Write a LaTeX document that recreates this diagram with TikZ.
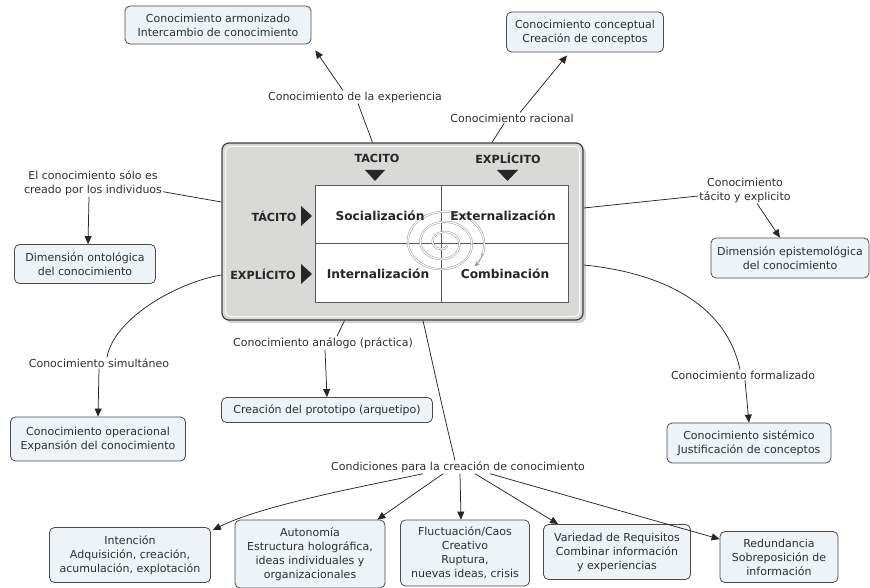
\documentclass[tikz,border=0pt]{standalone}
\usepackage{fontspec}
\setmainfont{DejaVu Sans}
\usetikzlibrary{arrows.meta}
\definecolor{boxfill}{HTML}{EDF3F6}
\definecolor{boxline}{HTML}{4A4A4A}
\definecolor{cbfill}{HTML}{D9D9D7}
\definecolor{txt}{HTML}{2E2E2E}
\begin{document}
\begin{tikzpicture}[x=1pt,y=-1pt,
  font=\fontsize{11}{14}\selectfont, text=txt,
  cbox/.style={draw=boxline, fill=boxfill, rounded corners=5pt, line width=0.8pt, align=center, inner sep=1pt},
  lbl/.style={align=center, inner sep=1pt},
  conn/.style={line width=0.75pt, draw=black!85},
  arr/.style={conn, -{Triangle[length=8pt,width=7pt]}},
  quad/.style={font=\fontsize{12.2}{14}\selectfont\bfseries, text=black!85},
  axlbl/.style={font=\fontsize{11.2}{13}\selectfont\bfseries, text=black!85},
]
\useasboundingbox (0,0) rectangle (870,588);

% central box
\fill[gray!35, rounded corners=7pt] (225,146) rectangle (586,323);
\node[draw=black!75, fill=cbfill, rounded corners=7pt, line width=1.2pt,
      minimum width=361pt, minimum height=177pt, inner sep=0pt] (cb) at (402.5,231.5) {};
\draw[white!85!cbfill, line width=1pt, rounded corners=5pt] (225.5,146.5) rectangle (579.5,316.5);
\node[draw=gray!70!black, fill=white, line width=0.8pt, minimum width=253pt,
      minimum height=117pt, inner sep=0pt] (grid) at (441.5,243.5) {};
\draw[gray!70!black, line width=0.8pt] (grid.north) -- (grid.south);
\draw[gray!70!black, line width=0.8pt] (grid.west) -- (grid.east);

% spiral
\draw[gray!80, line width=0.5pt, double=white, double distance=1.1pt]
  plot[domain=0:1072, samples=300, smooth]
  ({443+(5+\x/29)*cos(\x-1050)}, {243+0.82*(5+\x/29)*sin(\x-1050)});
\draw[gray!80, line width=0.9pt, -{Stealth[length=5pt,width=4.5pt]}]
  plot[domain=1068:1092, samples=10, smooth]
  ({443+(5+\x/29)*cos(\x-1050)}, {243+0.82*(5+\x/29)*sin(\x-1050)});

\node[quad] (soc) at (380,216) {Socialización};
\node[quad] (ext) at (503,216) {Externalización};
\node[quad] (int) at (378,274) {Internalización};
\node[quad] (com) at (505,274) {Combinación};

\node[axlbl] (tt) at (377,158) {TACITO};
\node[axlbl] (te) at (508,158) {EXPLÍCITO};
\node[axlbl] (lt) at (274,216) {TÁCITO};
\node[axlbl] (le) at (263,274) {EXPLÍCITO};
\fill[black!85] (365,170) -- (385,170) -- (375,181) -- cycle;
\fill[black!85] (497,170) -- (518,170) -- (507.5,181) -- cycle;
\fill[black!85] (301,206) -- (301,226) -- (312,216) -- cycle;
\fill[black!85] (301,264) -- (301,284) -- (312,274) -- cycle;

% concept boxes
\node[cbox, minimum width=186pt, minimum height=38pt] (A) at (218,25) {Conocimiento armonizado\\Intercambio de conocimiento};
\node[cbox, minimum width=157pt, minimum height=40pt] (B) at (585,32) {Conocimiento conceptual\\Creación de conceptos};
\node[cbox, minimum width=141pt, minimum height=39pt] (C) at (85,264) {Dimensión ontológica\\del conocimiento};
\node[cbox, minimum width=158pt, minimum height=40pt] (D) at (790,258) {Dimensión epistemológica\\del conocimiento};
\node[cbox, minimum width=175pt, minimum height=44pt] (E) at (98,439) {Conocimiento operacional\\Expansión del conocimiento};
\node[cbox, minimum width=211pt, minimum height=25pt] (F) at (327,410) {Creación del prototipo (arquetipo)};
\node[cbox, minimum width=164pt, minimum height=40pt] (G) at (749,443) {Conocimiento sistémico\\Justificación de conceptos};
\node[cbox, minimum width=161pt, minimum height=55pt] (H) at (130,555) {Intención\\Adquisición, creación,\\acumulación, explotación};
\node[cbox, minimum width=150pt, minimum height=68pt] (I) at (310,554) {Autonomía\\Estructura holográfica,\\ideas individuales y\\organizacionales};
\node[cbox, minimum width=129pt, minimum height=66pt] (J) at (465,553) {Fluctuación/Caos\\Creativo\\Ruptura,\\nuevas ideas, crisis};
\node[cbox, minimum width=147pt, minimum height=55pt] (K) at (617,552) {Variedad de Requisitos\\Combinar información\\y experiencias};
\node[cbox, minimum width=118pt, minimum height=51pt] (L) at (779,557) {Redundancia\\Sobreposición de\\información};

% linking phrases
\node[lbl] (L1) at (355,97) {Conocimiento de la experiencia};
\node[lbl] (L2) at (512,118) {Conocimiento racional};
\node[lbl] (L3) at (93,183) {El conocimiento sólo es\\creado por los individuos};
\node[lbl] (L4) at (745,190) {Conocimiento\\tácito y explicito};
\node[lbl] (L5) at (99,363) {Conocimiento simultáneo};
\node[lbl] (L6) at (323,343) {Conocimiento análogo (práctica)};
\node[lbl] (L7) at (743,375) {Conocimiento formalizado};
\node[lbl] (L8) at (458,467) {Condiciones para la creación de conocimiento};

% connectors
\draw[conn] ([xshift=-30pt]cb.north) -- ([xshift=3pt]L1.south);
\draw[arr] ([xshift=-12pt]L1.north) -- ([xshift=4pt,yshift=-6pt]A.south east);
\draw[conn] ([xshift=89.5pt]cb.north) -- ([xshift=-8pt]L2.south);
\draw[arr] ([xshift=8pt]L2.north) -- ([xshift=-18pt,yshift=-3pt]B.south);
\draw[conn] ([yshift=29.5pt]cb.west) -- ([yshift=5pt]L3.south east);
\draw[arr] ([xshift=-4pt]L3.south) -- ([xshift=3pt]C.north);
\draw[conn] ([yshift=23.5pt]cb.east) -- ([yshift=-6pt]L4.west);
\draw[arr] ([xshift=12pt]L4.south) -- ([xshift=-10pt]D.north);
\draw[conn] ([yshift=-43.5pt]cb.west) .. controls (178,282) and (114,318) .. ([xshift=8pt]L5.north);
\draw[arr] (L5.south) -- (E.north);
\draw[conn] ([xshift=-58pt]cb.south) -- ([xshift=14pt]L6.north);
\draw[arr] ([xshift=2pt]L6.south) -- (F.north);
\draw[conn] ([yshift=-33.5pt]cb.east) .. controls (655,272) and (725,300) .. ([xshift=-3pt]L7.north);
\draw[arr] ([xshift=2pt]L7.south) -- (G.north);
\draw[conn] ([xshift=20.5pt]cb.south) .. controls (433,365) and (445,420) .. ([xshift=-3pt]L8.north);
\draw[arr] ([xshift=-35pt]L8.south) .. controls (370,485) and (262,505) .. ([xshift=2pt,yshift=-3pt]H.north east);
\draw[arr] ([xshift=-15pt]L8.south) -- ([xshift=-8pt]I.north east);
\draw[arr] ([xshift=2pt]L8.south) -- ([xshift=-4pt]J.north);
\draw[arr] ([xshift=17pt]L8.south) -- ([xshift=15pt]K.north west);
\draw[arr] ([xshift=32pt]L8.south) -- ([yshift=-8pt]L.north west);
\end{tikzpicture}
\end{document}
